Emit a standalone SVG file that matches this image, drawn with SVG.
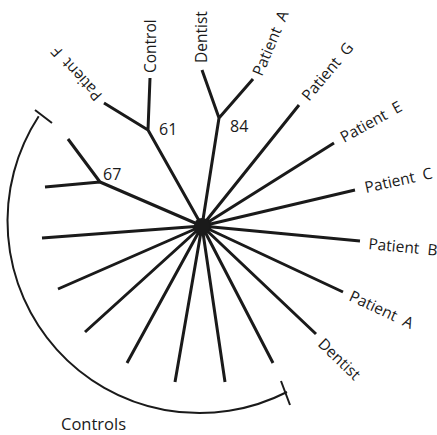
<svg xmlns="http://www.w3.org/2000/svg" width="437" height="435" viewBox="0 0 437 435">
<style>
.br{stroke:#1a1a1a;stroke-width:3;stroke-linecap:butt;fill:none}
.arc{stroke:#1a1a1a;stroke-width:2;fill:none}
text{font-family:"Open Sans","DejaVu Sans",sans-serif;fill:#1a1a1a}
.lb{font-size:15.5px}
.num{font-size:16px}
</style>
<rect width="437" height="435" fill="#fff"/>
<g id="connectors">
<path class="br" d="M202,226 L219,118 M219,118 L202,70 M219,118 L253,79"/>
<path class="br" d="M202,226 L148,130 M148,130 L150,78 M148,130 L104,103"/>
<path class="br" d="M202,226 L100,182 M100,182 L45,187 M100,182 L68,139"/>
<path class="br" d="M202,226 L299,105 M202,226 L334,143 M202,226 L355,190 M202,226 L360,241 M202,226 L343,292 M202,226 L316,334 M202,226 L273,363 M202,226 L225,382 M202,226 L175,382 M202,226 L127,363 M202,226 L85,332 M202,226 L58,289 M202,226 L42,238"/>
<circle cx="202" cy="226" r="8" fill="#1a1a1a"/>
<path class="arc" d="M38.7,116.2 A192,192 0 0 0 287,392"/>
<path class="arc" d="M35,110 L52,123 M281,381 L290,405"/>
</g>
<g id="node-dentist-top"><text class="lb" transform="translate(207,63) rotate(-90)">Dentist</text></g>
<g id="node-patientA-top"><text class="lb" transform="translate(262,77) rotate(-67)">Patient&#160;&#160;A</text></g>
<g id="node-control"><text class="lb" transform="translate(156,73) rotate(-90)">Control</text></g>
<g id="node-patientF"><text class="lb" transform="translate(103,95) rotate(-132)">Patient&#160;&#160;F</text></g>
<g id="node-patientG"><text class="lb" transform="translate(309,102) rotate(-50)">Patient&#160;&#160;G</text></g>
<g id="node-patientE"><text class="lb" transform="translate(344,143) rotate(-29)">Patient&#160;&#160;E</text></g>
<g id="node-patientC"><text class="lb" transform="translate(366,193) rotate(-12.5)">Patient&#160;&#160;C</text></g>
<g id="node-patientB"><text class="lb" transform="translate(368,249) rotate(5.5)">Patient&#160;&#160;B</text></g>
<g id="node-patientA-low"><text class="lb" transform="translate(348,300) rotate(25)">Patient&#160;&#160;A</text></g>
<g id="node-dentist-low"><text class="lb" transform="translate(317,345) rotate(44)">Dentist</text></g>
<g id="node-61"><text class="num" x="159" y="135">61</text></g>
<g id="node-67"><text class="num" x="103" y="180">67</text></g>
<g id="node-84"><text class="num" x="230" y="132">84</text></g>
<g id="node-controls"><text class="lb" x="61" y="430" style="font-size:16.5px">Controls</text></g>
</svg>
